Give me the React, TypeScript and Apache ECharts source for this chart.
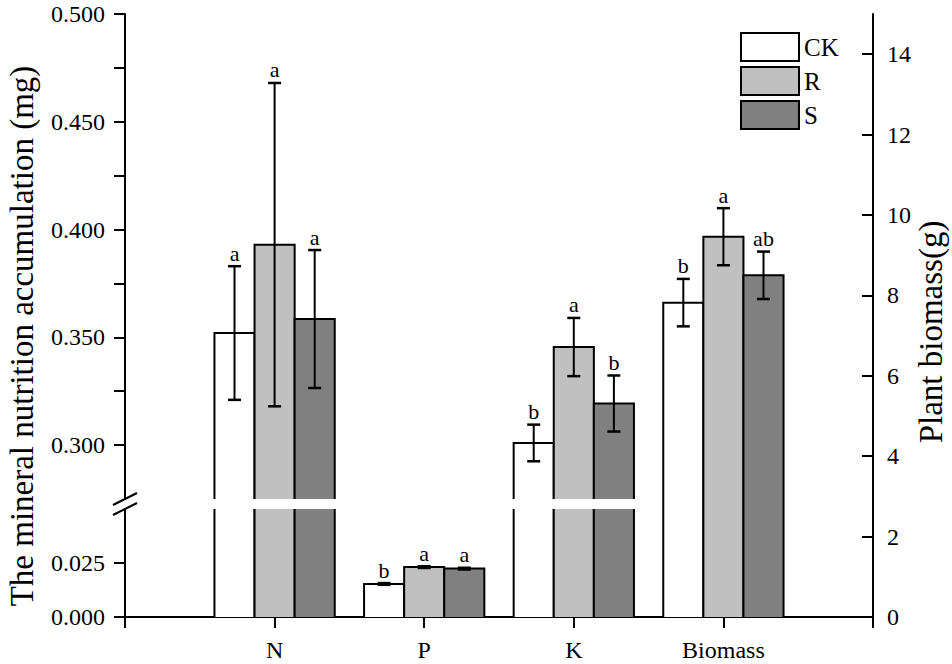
import React, { useEffect, useRef } from "react";
import * as echarts from "echarts";

const categories = ["N", "P", "K", "Biomass"];
const axisCategories = ["", "N", "P", "K", "Biomass", ""];
const groupNames = ["CK", "R", "S"];
const groupColors = ["#ffffff", "#c0c0c0", "#808080"];

const ckMeans = [0.352, 0.0153, 0.301, 7.82];
const ckErrors = [0.031, 0.0004, 0.0085, 0.59];
const ckLetters = ["a", "b", "b", "b"];

const rMeans = [0.393, 0.0231, 0.3455, 9.46];
const rErrors = [0.075, 0.0004, 0.0135, 0.71];
const rLetters = ["a", "a", "a", "a"];

const sMeans = [0.3585, 0.0224, 0.3193, 8.5];
const sErrors = [0.032, 0.0004, 0.013, 0.59];
const sLetters = ["a", "a", "b", "ab"];

const upperTicks = [0.3, 0.325, 0.35, 0.375, 0.4, 0.425, 0.45, 0.475, 0.5];
const upperLabels = [0.3, 0.35, 0.4, 0.45, 0.5];
const lowerTicks = [0, 0.025];
const lowerLabels = [0, 0.025];
const biomassTicks = [0, 2, 4, 6, 8, 10, 12, 14];

const FONT = '"Times New Roman", "Liberation Serif", serif';
const BAR_FRACTION = 0.268;

const groupMeans = [ckMeans, rMeans, sMeans];
const groupErrors = [ckErrors, rErrors, sErrors];
const groupLetters = [ckLetters, rLetters, sLetters];

function makeRender(k: number, color: string, letters: string[]) {
  return (params: any, api: any) => {
    const xi = api.value(0);
    const v = api.value(1);
    const e = api.value(2);
    const ci = api.value(3);
    const cs = params.coordSys;
    const gTop = cs.y;
    const gBot = cs.y + cs.height;
    const band = api.size([1, 0])[0];
    const bw = band * BAR_FRACTION;
    const p = api.coord([xi, v]);
    const base = Math.min(api.coord([xi, 0])[1], gBot);
    const top = Math.max(p[1], gTop);
    if (top >= base) return null;
    const cx = p[0] + (k - 1) * bw;
    const x0 = cx - bw / 2;
    const x1 = cx + bw / 2;
    const children: any[] = [];
    children.push({
      type: "rect",
      shape: { x: x0, y: top, width: bw, height: base - top },
      style: { fill: color, stroke: "none" },
    });
    const edge = { stroke: "#000", lineWidth: 2, fill: "none" };
    if (p[1] >= gTop) {
      children.push({
        type: "polyline",
        shape: { points: [[x0, base], [x0, top], [x1, top], [x1, base]] },
        style: edge,
      });
      const yHi = api.coord([xi, v + e])[1];
      const yLo = api.coord([xi, v - e])[1];
      if (yHi >= gTop) {
        children.push({
          type: "line",
          shape: { x1: cx, y1: yHi, x2: cx, y2: yLo },
          style: { stroke: "#000", lineWidth: 2 },
        });
        children.push({
          type: "line",
          shape: { x1: cx - 6.5, y1: yHi, x2: cx + 6.5, y2: yHi },
          style: { stroke: "#000", lineWidth: 2.5 },
        });
        children.push({
          type: "line",
          shape: { x1: cx - 6.5, y1: yLo, x2: cx + 6.5, y2: yLo },
          style: { stroke: "#000", lineWidth: 2.5 },
        });
        children.push({
          type: "text",
          x: cx,
          y: yHi - 2,
          style: {
            text: letters[ci],
            fill: "#000",
            fontSize: 22,
            fontFamily: FONT,
            align: "center",
            verticalAlign: "bottom",
          },
        });
      }
    } else {
      children.push({
        type: "line",
        shape: { x1: x0, y1: base, x2: x0, y2: gTop },
        style: edge,
      });
      children.push({
        type: "line",
        shape: { x1: x1, y1: base, x2: x1, y2: gTop },
        style: edge,
      });
    }
    return { type: "group", children };
  };
}

function buildOption() {
  const series: any[] = [];
  groupNames.forEach((name, k) => {
    const means = groupMeans[k];
    const errs = groupErrors[k];
    const nutrientRows: any[] = [];
    const biomassRows: any[] = [];
    categories.forEach((c, ci) => {
      const row = [ci + 1, means[ci], errs[ci], ci];
      if (c === "Biomass") biomassRows.push(row);
      else nutrientRows.push(row);
    });
    const render = makeRender(k, groupColors[k], groupLetters[k]);
    const common = {
      type: "custom",
      name,
      renderItem: render,
      itemStyle: { color: groupColors[k], borderColor: "#000" },
      encode: { x: 0, y: 1 },
      silent: true,
    };
    series.push({ ...common, xAxisIndex: 0, yAxisIndex: 0, data: nutrientRows });
    series.push({ ...common, xAxisIndex: 1, yAxisIndex: 1, data: nutrientRows });
    series.push({ ...common, xAxisIndex: 2, yAxisIndex: 2, data: biomassRows });
  });

  const black = { color: "#000", width: 2 };
  const hiddenX = (gridIndex: number) => ({
    type: "category",
    gridIndex,
    data: axisCategories,
    boundaryGap: false,
    show: false,
  });

  return {
    animation: false,
    backgroundColor: "#ffffff",
    grid: [
      { left: 125, right: 79, top: 14, height: 485 },
      { left: 125, right: 79, top: 509, height: 108 },
      { left: 125, right: 79, top: 14, height: 603 },
    ],
    xAxis: [
      hiddenX(0),
      {
        type: "category",
        gridIndex: 1,
        data: axisCategories,
        boundaryGap: false,
        axisLine: { show: true, onZero: false, lineStyle: black },
        axisTick: { show: true, interval: 0, length: 11, inside: false, lineStyle: black },
        axisLabel: { interval: 0, fontSize: 24, fontFamily: FONT, color: "#000", margin: 21 },
        splitLine: { show: false },
      },
      hiddenX(2),
    ],
    yAxis: [
      {
        type: "value",
        gridIndex: 0,
        min: 0.275,
        max: 0.5,
        position: "left",
        axisLine: { show: true, onZero: false, lineStyle: black },
        axisTick: { show: true, length: 11, lineStyle: black, customValues: upperTicks },
        axisLabel: {
          customValues: upperLabels,
          formatter: (v: number) => v.toFixed(3),
          fontSize: 24,
          fontFamily: FONT,
          color: "#000",
          margin: 20,
        },
        splitLine: { show: false },
      },
      {
        type: "value",
        gridIndex: 1,
        min: 0,
        max: 0.05,
        position: "left",
        axisLine: { show: true, onZero: false, lineStyle: black },
        axisTick: { show: true, length: 11, lineStyle: black, customValues: lowerTicks },
        axisLabel: {
          customValues: lowerLabels,
          formatter: (v: number) => v.toFixed(3),
          fontSize: 24,
          fontFamily: FONT,
          color: "#000",
          margin: 20,
        },
        splitLine: { show: false },
      },
      {
        type: "value",
        gridIndex: 2,
        min: 0,
        max: 15,
        position: "right",
        axisLine: { show: true, onZero: false, lineStyle: black },
        axisTick: { show: true, inside: true, length: 11, lineStyle: black, customValues: biomassTicks },
        axisLabel: {
          customValues: biomassTicks,
          fontSize: 24,
          fontFamily: FONT,
          color: "#000",
          margin: 14,
        },
        splitLine: { show: false },
      },
    ],
    legend: {
      orient: "vertical",
      left: 740,
      top: 32,
      padding: 0,
      itemWidth: 58,
      itemHeight: 28,
      itemGap: 4,
      icon: "rect",
      selectedMode: false,
      textStyle: { fontSize: 25, fontFamily: FONT, color: "#000" },
      data: groupNames.map((n, i) => ({
        name: n,
        itemStyle: { color: groupColors[i], borderColor: "#000", borderWidth: 2 },
      })),
    },
    graphic: [
      {
        type: "text",
        x: 22,
        y: 336,
        rotation: Math.PI / 2,
        style: {
          text: "The mineral nutrition accumulation (mg)",
          fill: "#000",
          fontSize: 33,
          fontFamily: FONT,
          align: "center",
          verticalAlign: "middle",
        },
      },
      {
        type: "text",
        x: 931,
        y: 332,
        rotation: Math.PI / 2,
        style: {
          text: "Plant biomass(g)",
          fill: "#000",
          fontSize: 33,
          fontFamily: FONT,
          align: "center",
          verticalAlign: "middle",
        },
      },
      {
        type: "line",
        shape: { x1: 113, y1: 505, x2: 137, y2: 493 },
        style: { stroke: "#000", lineWidth: 2 },
      },
      {
        type: "line",
        shape: { x1: 113, y1: 515, x2: 137, y2: 503 },
        style: { stroke: "#000", lineWidth: 2 },
      },
    ],
    series,
  };
}

export default function App() {
  const ref = useRef<HTMLDivElement>(null);
  useEffect(() => {
    if (!ref.current) return;
    const chart = echarts.init(ref.current, undefined, { renderer: "svg" });
    chart.setOption(buildOption() as any);
    return () => chart.dispose();
  }, []);
  return (
    <div
      ref={ref}
      style={{ position: "absolute", left: 0, top: 0, width: 952, height: 664, background: "#fff" }}
    />
  );
}
